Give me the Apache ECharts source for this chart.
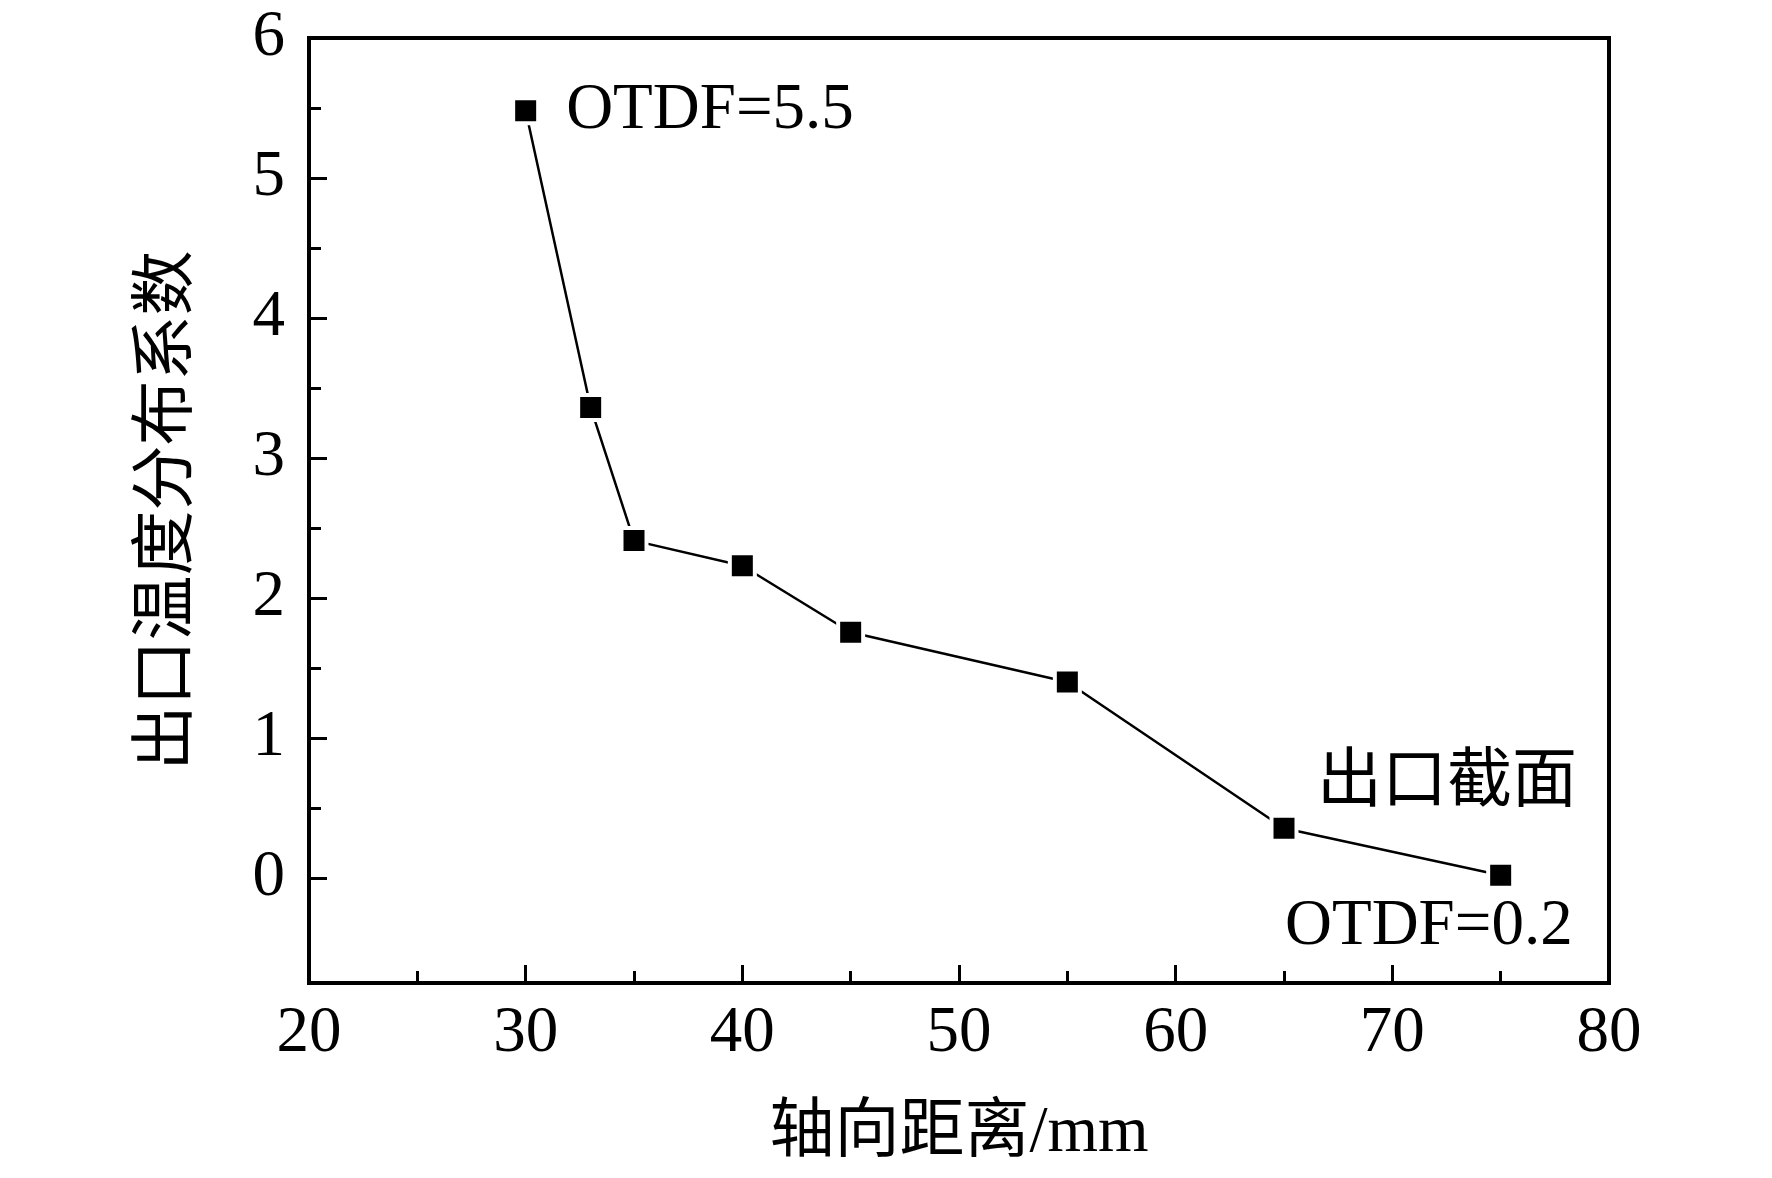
<!DOCTYPE html>
<html>
<head>
<meta charset="utf-8">
<script src="https://cdn.jsdelivr.net/npm/echarts@6/dist/echarts.min.js"></script>
<style>
  html, body { margin: 0; padding: 0; background: #fff; }
  #chart { width: 1772px; height: 1178px; }
</style>
</head>
<body>
<div id="chart"></div>
<script>
// datos
const axialDistance = [30, 33, 35, 40, 45, 55, 65, 75];
const otdfValues = [5.48, 3.36, 2.41, 2.23, 1.755, 1.40, 0.355, 0.02];
const yMajorTicks = [0, 1, 2, 3, 4, 5, 6];
const yMinorTicks = [0.5, 1.5, 2.5, 3.5, 4.5, 5.5];
const noteFirst = 'OTDF=5.5';
const noteLast = 'OTDF=0.2';
const noteExit = '出口截面';

const fontFam = '"Liberation Serif", "Times New Roman", "Noto Sans CJK SC", serif';

const chartDom = document.getElementById('chart');
const myChart = echarts.init(chartDom);

const seriesData = axialDistance.map((x, i) => {
    const item = { value: [x, otdfValues[i]] };
    if (i === 0) {
        item.label = {
            show: true, formatter: noteFirst, position: 'right', distance: 26
        };
    } else if (i === axialDistance.length - 1) {
        item.label = {
            show: true, formatter: noteLast, position: 'inside',
            align: 'right', verticalAlign: 'middle', offset: [72, 52]
        };
    } else if (i === axialDistance.length - 2) {
        item.label = {
            show: true, formatter: noteExit, position: 'inside',
            align: 'left', verticalAlign: 'middle', offset: [33, -44]
        };
    }
    return item;
});

const option = {
    backgroundColor: '#fff',
    animation: false,
    textStyle: { fontFamily: fontFam, color: '#000' },
    grid: {
        left: 309, right: 163, top: 38, bottom: 195,
        show: true, borderColor: '#000', borderWidth: 4
    },
    xAxis: {
        type: 'value',
        min: 20, max: 80, interval: 10,
        name: '轴向距离/mm',
        nameLocation: 'middle',
        nameGap: 118,
        nameTextStyle: { fontSize: 65, color: '#000', fontFamily: fontFam },
        axisLine: { show: true, onZero: false, lineStyle: { color: '#000', width: 4 } },
        axisTick: { show: true, inside: true, length: 18, lineStyle: { color: '#000', width: 3 } },
        minorTick: { show: true, splitNumber: 2, length: 12, lineStyle: { color: '#000', width: 3 } },
        axisLabel: { fontSize: 65, color: '#000', margin: 18, fontFamily: fontFam },
        splitLine: { show: false },
        minorSplitLine: { show: false }
    },
    yAxis: [
        {
            type: 'value',
            position: 'left',
            min: -0.75, max: 6,
            name: '出口温度分布系数',
            nameLocation: 'middle',
            nameGap: 108,
            nameRotate: 90,
            nameTextStyle: { fontSize: 65, color: '#000', fontFamily: fontFam },
            axisLine: { show: true, onZero: false, lineStyle: { color: '#000', width: 4 } },
            axisTick: {
                show: true, inside: true, length: 18, customValues: yMajorTicks,
                lineStyle: { color: '#000', width: 3 }
            },
            axisLabel: {
                fontSize: 65, color: '#000', margin: 24, fontFamily: fontFam,
                customValues: yMajorTicks
            },
            splitLine: { show: false }
        },
        {
            type: 'value',
            position: 'left',
            min: -0.75, max: 6,
            axisLine: { show: false, onZero: false },
            axisTick: {
                show: true, inside: true, length: 12, customValues: yMinorTicks,
                lineStyle: { color: '#000', width: 3 }
            },
            axisLabel: { show: false },
            splitLine: { show: false }
        }
    ],
    series: [
        {
            type: 'line',
            yAxisIndex: 0,
            data: seriesData,
            symbol: 'rect',
            symbolSize: 25,
            lineStyle: { color: '#000', width: 2.5 },
            itemStyle: { color: '#000', borderColor: '#fff', borderWidth: 4 },
            label: {
                fontSize: 65, color: '#000', fontFamily: fontFam
            },
            z: 3
        }
    ]
};

myChart.setOption(option);

window.addEventListener('resize', function() {
    myChart.resize();
});
</script>
</body>
</html>
